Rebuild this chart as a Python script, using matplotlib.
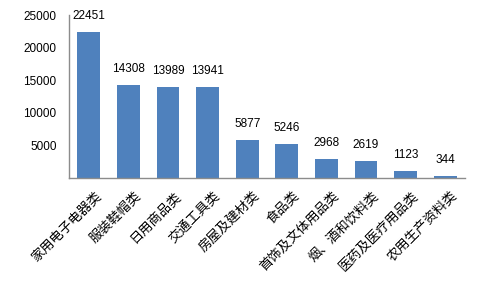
import matplotlib
matplotlib.use("Agg")
import matplotlib.pyplot as plt
import matplotlib.transforms as mtransforms

plt.rcParams['font.family'] = ['Noto Sans CJK SC', 'DejaVu Sans']
NUMFONT = 'Liberation Sans'

categories = ["家用电子电器类", "服装鞋帽类", "日用商品类", "交通工具类", "房屋及建材类",
              "食品类", "首饰及文体用品类", "烟、酒和饮料类", "医药及医疗用品类", "农用生产资料类"]
values = [22451, 14308, 13989, 13941, 5877, 5246, 2968, 2619, 1123, 344]
yticks = [5000, 10000, 15000, 20000, 25000]

fig = plt.figure(figsize=(4.8, 2.88), dpi=100)
ax = fig.add_axes([69/480, 1-178/288, (465-69)/480, (178-15)/288])
x = list(range(len(categories)))
ax.bar(x, values, width=0.58, color='#4F81BD')
ax.set_xlim(-0.5, len(categories)-0.5)
ax.set_ylim(0, 25000)
ax.set_yticks(yticks)
ax.set_yticklabels([str(v) for v in yticks], fontsize=8.5, family=NUMFONT)
ax.tick_params(axis='y', length=0, pad=9)
ax.set_xticks(x)
ax.set_xticklabels(categories, rotation=45, ha='right', va='top', rotation_mode='anchor', fontsize=9.5)
ax.tick_params(axis='x', length=0, pad=8)
offset = mtransforms.ScaledTranslation(6/100, 0, fig.dpi_scale_trans)
for lab in ax.get_xticklabels():
    lab.set_transform(lab.get_transform() + offset)
for s in ['top', 'right']:
    ax.spines[s].set_visible(False)
for s in ['left', 'bottom']:
    ax.spines[s].set_color('#8C8C8C')
    ax.spines[s].set_linewidth(1)
for xi, v in zip(x, values):
    ax.annotate(str(v), (xi, v), xytext=(0, 7), textcoords='offset points',
                ha='center', va='bottom', fontsize=8.5, family=NUMFONT)
fig.savefig('out.png', dpi=100)
